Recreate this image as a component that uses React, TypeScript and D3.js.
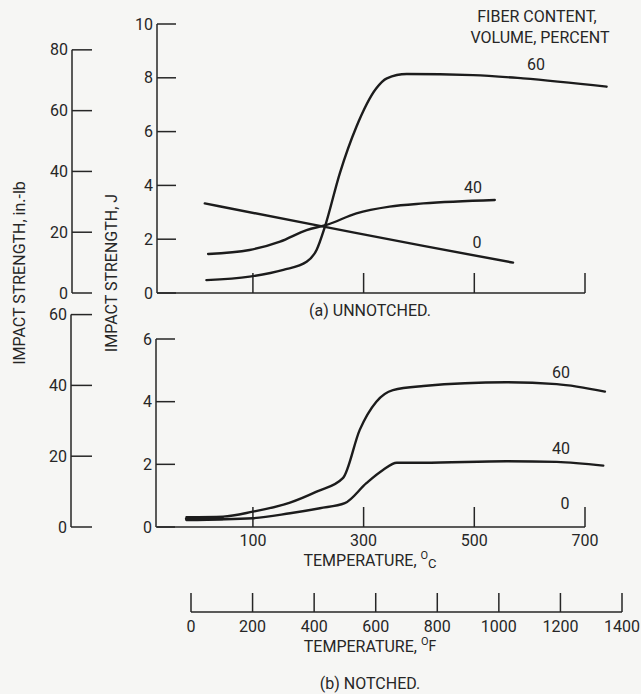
import React from "react";
import * as d3 from "d3";

// Impact strength (J) vs temperature (°C), by fiber content (volume percent)
const unnotched60: [number, number][] = [
  [16, 0.48], [94, 0.61], [155, 0.86], [197, 1.16], [215, 1.6], [230, 2.46],
  [257, 4.45], [287, 6.18], [323, 7.61], [342, 7.98], [378, 8.14], [498, 8.1],
  [588, 7.98], [739, 7.67],
];
const unnotched40: [number, number][] = [
  [19, 1.45], [94, 1.6], [149, 1.91], [197, 2.34], [233, 2.53], [287, 2.96],
  [347, 3.21], [408, 3.33], [537, 3.46],
];
const unnotched0: [number, number][] = [
  [13, 3.33], [230, 2.46], [408, 1.75], [570, 1.13],
];
const notched60: [number, number][] = [
  [-20, 0.31], [46, 0.33], [100, 0.49], [167, 0.78], [215, 1.13], [263, 1.57],
  [293, 3.1], [323, 4.0], [353, 4.37], [408, 4.5], [558, 4.62], [649, 4.56],
  [736, 4.32],
];
const notched40: [number, number][] = [
  [-20, 0.22], [100, 0.28], [167, 0.44], [221, 0.6], [266, 0.76], [305, 1.4],
  [335, 1.82], [360, 2.05], [408, 2.05], [558, 2.1], [649, 2.08], [733, 1.96],
];
const notched0: [number, number][] = [
  [-20, 0.26], [45, 0.27],
];

const celsiusTicks = [100, 300, 500, 700];
const fahrenheitTicks = [0, 200, 400, 600, 800, 1000, 1200, 1400];
const topJTicks = [0, 2, 4, 6, 8, 10];
const topInLbTicks = [0, 20, 40, 60, 80];
const bottomJTicks = [0, 2, 4, 6];
const bottomInLbTicks = [0, 20, 40, 60];
const IN_LB_PER_J = 8.8507;

const FONT = "'Liberation Sans Narrow', 'Arial Narrow', 'Roboto', sans-serif";
const INK = "#262626";

export default function App() {
  const x = d3.scaleLinear().domain([-73.3, 700]).range([157, 585]);
  const xF = d3.scaleLinear().domain([0, 1400]).range([191, 622]);

  const yTop = d3.scaleLinear().domain([0, 10]).range([293, 24]);
  const yTopIn = d3.scaleLinear().domain([0, 80]).range([yTop(0), yTop(80 / IN_LB_PER_J)]);
  const yBot = d3.scaleLinear().domain([0, 6]).range([527, 339]);
  const yBotIn = d3.scaleLinear().domain([0, 60]).range([yBot(0), yBot(60 / IN_LB_PER_J)]);

  const lineTop = d3.line<[number, number]>().x(d => x(d[0])).y(d => yTop(d[1])).curve(d3.curveMonotoneX);
  const lineBot = d3.line<[number, number]>().x(d => x(d[0])).y(d => yBot(d[1])).curve(d3.curveMonotoneX);

  const txt = { fontFamily: FONT, fontSize: 16, fill: INK } as const;

  const yAxis = (scale: d3.ScaleLinear<number, number>, ticks: number[], ax: number, len: number) => (
    <g>
      <line x1={ax} x2={ax} y1={scale(ticks[0])} y2={scale(ticks[ticks.length - 1])} stroke={INK} strokeWidth={1.5} />
      {ticks.map(t => (
        <g key={t}>
          <line x1={ax} x2={ax + len} y1={scale(t)} y2={scale(t)} stroke={INK} strokeWidth={1.5} />
          <text x={ax - 4} y={scale(t)} dy="0.35em" textAnchor="end" {...txt}>{t}</text>
        </g>
      ))}
    </g>
  );

  const xAxisC = (y0: number, labels: boolean) => (
    <g>
      <line x1={x.range()[0]} x2={x.range()[1]} y1={y0} y2={y0} stroke={INK} strokeWidth={1.5} />
      {celsiusTicks.map(t => (
        <g key={t}>
          <line x1={x(t)} x2={x(t)} y1={y0} y2={y0 - 20} stroke={INK} strokeWidth={1.5} />
          {labels && <text x={x(t)} y={y0 + 19} textAnchor="middle" {...txt}>{t}</text>}
        </g>
      ))}
    </g>
  );

  const curve = (d: string | null, w = 2.4) => (
    <path d={d ?? ""} fill="none" stroke="#1c1c1c" strokeWidth={w} strokeLinecap="round" strokeLinejoin="round" />
  );

  return (
    <svg width={641} height={694} style={{ position: "absolute", left: 0, top: 0, background: "#f6f6f4" }}>
      <rect width={641} height={694} fill="#f6f6f4" />

      {/* axis titles */}
      <text transform="translate(25,273) rotate(-90)" textAnchor="middle" {...txt}>IMPACT STRENGTH, in.-lb</text>
      <text transform="translate(117,273) rotate(-90)" textAnchor="middle" {...txt}>IMPACT STRENGTH, J</text>

      {/* (a) unnotched */}
      {yAxis(yTopIn, topInLbTicks, 72, 20)}
      {yAxis(yTop, topJTicks, 157, 19)}
      {xAxisC(yTop(0), false)}
      {curve(lineTop(unnotched60))}
      {curve(lineTop(unnotched40))}
      {curve(lineTop(unnotched0))}
      <text x={537} y={22} textAnchor="middle" {...txt}>FIBER CONTENT,</text>
      <text x={540} y={43} textAnchor="middle" {...txt}>VOLUME, PERCENT</text>
      <text x={536} y={70} textAnchor="middle" {...txt}>60</text>
      <text x={473} y={193} textAnchor="middle" {...txt}>40</text>
      <text x={477} y={248} textAnchor="middle" {...txt}>0</text>
      <text x={370} y={316} textAnchor="middle" {...txt}>(a) UNNOTCHED.</text>

      {/* (b) notched */}
      {yAxis(yBotIn, bottomInLbTicks, 71, 21)}
      {yAxis(yBot, bottomJTicks, 156, 19)}
      {xAxisC(yBot(0), true)}
      {curve(lineBot(notched60))}
      {curve(lineBot(notched40))}
      {curve(lineBot(notched0), 3.4)}
      <text x={561} y={378} textAnchor="middle" {...txt}>60</text>
      <text x={561} y={454} textAnchor="middle" {...txt}>40</text>
      <text x={565} y={509} textAnchor="middle" {...txt}>0</text>
      <text x={370} y={566} textAnchor="middle" {...txt}>
        TEMPERATURE,{" "}
        <tspan fontSize={11} dy={-7}>O</tspan>
        <tspan fontSize={13} dy={9}>C</tspan>
      </text>

      {/* Fahrenheit scale */}
      <line x1={xF(0)} x2={xF(1400)} y1={612} y2={612} stroke={INK} strokeWidth={1.5} />
      {fahrenheitTicks.map(t => (
        <g key={t}>
          <line x1={xF(t)} x2={xF(t)} y1={612} y2={593} stroke={INK} strokeWidth={1.5} />
          <text x={xF(t)} y={632} textAnchor="middle" {...txt}>{t}</text>
        </g>
      ))}
      <text x={370} y={652} textAnchor="middle" {...txt}>
        TEMPERATURE,{" "}
        <tspan fontSize={11} dy={-7}>O</tspan>
        <tspan fontSize={14} dy={6}>F</tspan>
      </text>
      <text x={370} y={689} textAnchor="middle" {...txt}>(b) NOTCHED.</text>
    </svg>
  );
}
